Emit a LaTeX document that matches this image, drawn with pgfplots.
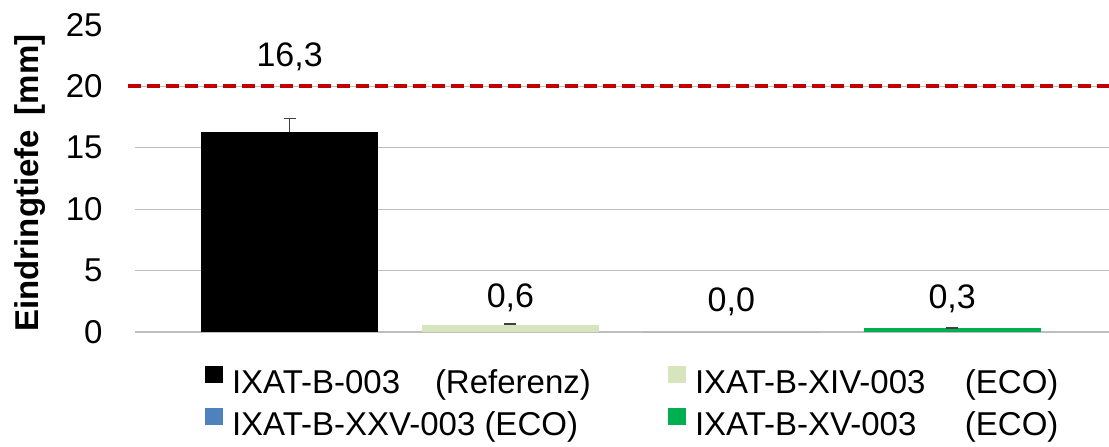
\documentclass[border=0pt]{standalone}
\usepackage{fontspec}
\setmainfont{Liberation Sans}
\usepackage{pgfplots}
\pgfplotsset{compat=1.18}
\definecolor{cLight}{RGB}{216,228,188}
\definecolor{cBlue}{RGB}{79,129,189}
\definecolor{cGreen}{RGB}{0,176,80}
\definecolor{cRed}{RGB}{192,0,0}
\definecolor{cGrid}{RGB}{190,190,190}
\definecolor{cErr}{RGB}{64,64,64}
\begin{document}
\begin{tikzpicture}
\path[use as bounding box] (-67.5pt,-57pt) rectangle (487pt,166pt);
\begin{axis}[
  at={(0pt,0pt)}, anchor=south west,
  scale only axis, width=487pt, height=153.5pt,
  xmin=-0.70, xmax=3.71, ymin=0, ymax=25,
  clip=false,
  axis line style={draw=none},
  major tick length=0pt,
  xtick=\empty,
  ytick={0,5,10,15,20},
  extra y ticks={25},
  extra y tick style={ymajorgrids=false},
  ymajorgrids,
  grid style={cGrid, line width=0.6pt},
  /pgf/number format/assume math mode=true,
  yticklabel style={font=\fontsize{16.5}{18}\selectfont, inner sep=0pt, anchor=east, xshift=-16pt},
  ylabel={Eindringtiefe\, [mm]},
  ylabel style={font=\bfseries\fontsize{16.5}{18}\selectfont, at={(axis description cs:-0.1078,0.485)}, anchor=center},
  bar width=0.802, 
  legend columns=2,
  legend style={at={(axis description cs:0.0719,-0.1107)}, anchor=north west,
    draw=none, fill=none, inner sep=0pt, outer sep=0pt,
    font=\fontsize{16.5}{18}\selectfont, row sep=4pt,
    /tikz/every odd column/.append style={column sep=4.5pt},
    /tikz/every even column/.append style={column sep=8pt},
    nodes={inner sep=0pt, text height=12pt, text depth=3.5pt}},
  sq/.style={legend image code/.code={\fill[##1, draw=none] (0pt,1pt) rectangle (9pt,9.5pt);}},
  lab/.style={nodes near coords={\pgfmathprintnumber[fixed,fixed zerofill,precision=1,use comma,assume math mode=true]{\pgfplotspointmeta}},
    nodes near coords style={anchor=center, font=\fontsize{17}{19}\selectfont, text=black, yshift=#1}},
  eb/.style={error bars/.cd, y dir=plus, y explicit,
    error mark=-,
    error bar style={draw=cErr, line width=0.7pt},
    error mark options={draw=cErr, rotate=90, mark size=3pt, line width=0.7pt}},
]
\addplot[ybar, bar shift=0pt, fill=black, draw=none, sq, lab=37.4pt, eb]
  coordinates {(0,16.3) +- (0,1.1)};
\addlegendentry{\makebox[210pt][l]{\makebox[101.5pt][l]{IXAT-B-003}(Referenz)}}
\addplot[ybar, bar shift=0pt, fill=cLight, draw=none, sq, lab=13.3pt, eb]
  coordinates {(1,0.6) +- (0,0.05)};
\addlegendentry{\makebox[135pt][l]{IXAT-B-XIV-003}(ECO)}
\addplot[ybar, bar shift=0pt, fill=cBlue, draw=none, sq, lab=15pt]
  coordinates {(2,0.0)};
\addlegendentry{\makebox[210pt][l]{IXAT-B-XXV-003 (ECO)}}
\addplot[ybar, bar shift=0pt, fill=cGreen, draw=none, sq, lab=15pt, eb]
  coordinates {(3,0.3) +- (0,0.03)};
\addlegendentry{\makebox[135pt][l]{IXAT-B-XV-003}(ECO)}
\addplot[cRed, line width=2pt, dash pattern=on 6.5pt off 3pt, forget plot]
  coordinates {(-0.732,20) (3.71,20)};
\end{axis}
\end{tikzpicture}
\end{document}
